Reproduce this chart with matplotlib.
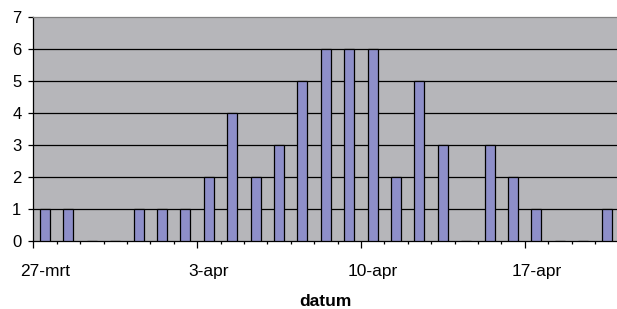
import matplotlib
matplotlib.use("Agg")
import matplotlib.pyplot as plt
import matplotlib.transforms as mtrans
from matplotlib.ticker import FixedLocator, NullFormatter

dates = ["27-mrt", "28-mrt", "29-mrt", "30-mrt", "31-mrt", "1-apr", "2-apr",
         "3-apr", "4-apr", "5-apr", "6-apr", "7-apr", "8-apr", "9-apr",
         "10-apr", "11-apr", "12-apr", "13-apr", "14-apr", "15-apr", "16-apr",
         "17-apr", "18-apr", "19-apr", "20-apr"]
counts = [1, 1, 0, 0, 1, 1, 1,
          2, 4, 2, 3, 5, 6, 6,
          6, 2, 5, 3, 0, 3, 2,
          1, 0, 0, 1]
label_dates = ["27-mrt", "3-apr", "10-apr", "17-apr"]
y_ticks = [0, 1, 2, 3, 4, 5, 6, 7]
x_title = "datum"

plt.rcParams['font.family'] = ['Liberation Sans', 'DejaVu Sans']

W, H = 617, 309
fig = plt.figure(figsize=(W / 100, H / 100), dpi=100)
ax = fig.add_axes([33.3 / W, (H - 240.7) / H, 585 / W, 224 / H])
ax.set_facecolor("#B6B6BA")

x = list(range(len(dates)))
ax.bar(x, counts, width=0.42, color="#8E8FC9", edgecolor="black", linewidth=0.9, zorder=3)

ax.set_xlim(-0.5, len(dates) - 0.5)
ax.set_ylim(0, 7)

# y axis
ax.set_yticks(y_ticks)
ax.set_yticklabels([str(v) for v in y_ticks], fontsize=12)
for v in y_ticks[1:-1]:
    ax.axhline(v, color="black", linewidth=0.9, zorder=1)
ax.tick_params(axis="y", direction="out", length=3.5, width=0.9, pad=5, colors="black")

# x axis: ticks at category boundaries, labels at category centers
bounds = [i - 0.5 for i in range(len(dates) + 1)]
major_bounds = [dates.index(d) - 0.5 for d in label_dates]
minor_bounds = [b for b in bounds if b not in major_bounds]
ax.xaxis.set_major_locator(FixedLocator(major_bounds))
ax.xaxis.set_major_formatter(NullFormatter())
ax.xaxis.set_minor_locator(FixedLocator(minor_bounds))
ax.tick_params(axis="x", which="major", direction="out", length=5, width=0.9)
ax.tick_params(axis="x", which="minor", direction="out", length=2.5, width=0.9)

trans = mtrans.blended_transform_factory(ax.transData, fig.transFigure)
for d in label_dates:
    ax.text(dates.index(d), (H - 276) / H, d, ha="center", va="baseline",
            fontsize=12.5, transform=trans)

fig.text(325 / W, (H - 305.5) / H, x_title, ha="center", va="baseline",
         fontsize=12.5, fontweight="bold")

for s in ["left", "bottom"]:
    ax.spines[s].set_color("black")
    ax.spines[s].set_linewidth(0.9)
ax.spines["right"].set_visible(False)
ax.spines["top"].set_color("#808080")
ax.spines["top"].set_linewidth(0.9)

fig.savefig("out.png", dpi=100, facecolor="white")
